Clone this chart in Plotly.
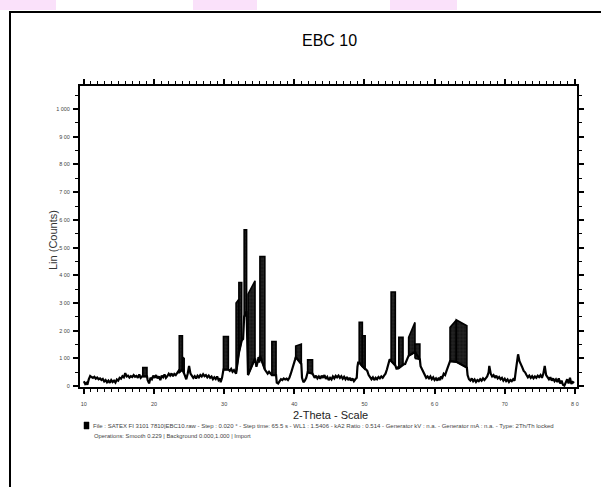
import plotly.graph_objects as go

# ---- data ----
profile_x = [10.0, 10.2, 10.4, 10.5, 10.7, 10.9, 11.1, 11.3, 11.5, 11.7, 11.9, 12.1, 12.3, 12.5, 12.7, 12.9,
             13.1, 13.3, 13.5, 13.7, 13.9, 14.1, 14.3, 14.5, 14.7, 14.9, 15.1, 15.3, 15.5, 15.7, 15.9, 16.1,
             16.3, 16.5, 16.7, 16.9, 17.1, 17.3, 17.5, 17.7, 17.9, 18.1, 18.3, 18.4, 19.0, 19.1, 19.3, 19.5,
             19.7, 19.9, 20.1, 20.3, 20.5, 20.7, 20.9, 21.1, 21.3, 21.5, 21.7, 21.9, 22.1, 22.3, 22.5, 22.7,
             22.9, 23.1, 23.3, 23.5, 23.6, 24.05, 24.3, 24.4, 24.6, 24.8, 25.0, 25.2, 25.4, 25.6, 25.8, 26.0,
             26.2, 26.4, 26.6, 26.8, 27.0, 27.2, 27.4, 27.6, 27.8, 28.0, 28.2, 28.4, 28.6, 28.8, 29.0, 29.2,
             29.4, 29.5, 29.7, 29.9, 30.6, 30.8, 31.0, 31.2, 31.4, 31.6, 31.7, 32.1, 32.5, 32.7, 32.85, 33.2,
             33.4, 34.4, 34.6, 34.8, 34.9, 35.0, 35.1, 35.8, 36.0, 36.2, 36.4, 36.6, 36.8, 37.4, 37.5, 37.7,
             37.9, 38.1, 38.3, 38.5, 38.7, 38.9, 39.1, 39.3, 39.5, 39.7, 39.9, 40.1, 40.2, 41.0, 41.1, 41.3,
             41.5, 41.7, 41.9, 42.6, 42.7, 42.9, 43.1, 43.3, 43.5, 43.7, 43.9, 44.1, 44.3, 44.5, 44.7, 44.9,
             45.1, 45.3, 45.5, 45.7, 45.9, 46.1, 46.3, 46.5, 46.7, 46.9, 47.1, 47.3, 47.5, 47.7, 47.9, 48.1,
             48.3, 48.5, 48.7, 48.9, 49.0, 49.1, 49.25, 49.7, 50.1, 50.2, 50.4, 50.6, 50.8, 51.0, 51.2, 51.4,
             51.6, 51.8, 52.0, 52.2, 52.4, 52.6, 52.8, 53.0, 53.2, 53.4, 53.6, 53.8, 54.4, 54.6, 54.8, 54.9,
             55.5, 55.6, 55.8, 56.0, 56.2, 56.3, 57.2, 57.9, 58.0, 58.2, 58.4, 58.6, 58.8, 59.0, 59.2, 59.4,
             59.6, 59.8, 60.0, 60.2, 60.4, 60.6, 60.8, 60.9, 61.1, 61.3, 61.5, 61.7, 61.9, 62.1, 62.2, 63.1,
             64.6, 64.7, 64.9, 65.1, 65.3, 65.5, 65.7, 65.9, 66.1, 66.3, 66.5, 66.7, 66.9, 67.1, 67.3, 67.5,
             67.7, 67.8, 68.0, 68.2, 68.4, 68.6, 68.8, 69.0, 69.2, 69.4, 69.6, 69.8, 70.0, 70.2, 70.4, 70.6,
             70.8, 71.0, 71.2, 71.4, 71.6, 71.8, 71.9, 72.1, 72.3, 72.5, 72.7, 72.9, 73.1, 73.3, 73.5, 73.7,
             73.9, 74.1, 74.3, 74.5, 74.7, 74.9, 75.1, 75.3, 75.5, 75.7, 75.9, 76.1, 76.3, 76.5, 76.7, 76.9,
             77.1, 77.3, 77.5, 77.7, 77.9, 78.1, 78.3, 78.5, 78.7, 78.9, 79.1, 79.3, 79.5, 79.7, 79.9]
profile_y = [18, 8, 12, 5, 25, 37, 33, 30, 34, 27, 31, 25, 28, 22, 26, 17,
             22, 14, 20, 12, 22, 15, 20, 13, 24, 20, 30, 27, 36, 32, 47, 35,
             38, 31, 36, 33, 40, 34, 37, 30, 42, 30, 35, 35, 35, 22, 10, 30,
             25, 38, 30, 40, 28, 35, 22, 38, 32, 42, 30, 36, 45, 38, 46, 36,
             44, 40, 48, 55, 50, 60, 45, 40, 25, 45, 73, 45, 38, 30, 36, 28,
             38, 32, 40, 35, 43, 36, 40, 32, 38, 30, 35, 25, 32, 26, 35, 22,
             28, 14, 30, 60, 60, 55, 62, 52, 58, 45, 45, 120, 165, 170, 250, 270,
             40, 100, 70, 90, 105, 85, 110, 60, 50, 45, 52, 44, 40, 40, 13, 10,
             20, 25, 22, 28, 24, 27, 22, 30, 45, 60, 73, 95, 105, 80, 30, 14,
             20, 30, 50, 45, 40, 30, 38, 28, 35, 27, 38, 30, 40, 26, 33, 22,
             30, 24, 35, 28, 37, 32, 38, 30, 36, 27, 34, 25, 33, 22, 30, 20,
             28, 18, 25, 30, 70, 85, 85, 70, 61, 61, 55, 40, 30, 25, 32, 22,
             30, 25, 33, 28, 35, 30, 38, 45, 60, 80, 97, 91, 75, 61, 70, 65,
             79, 79, 80, 95, 110, 110, 123, 97, 72, 60, 50, 40, 30, 35, 28, 35,
             25, 32, 22, 28, 20, 30, 22, 35, 30, 45, 40, 55, 70, 90, 90, 88,
             67, 40, 25, 20, 28, 18, 24, 15, 22, 18, 25, 20, 28, 22, 30, 35,
             50, 73, 45, 35, 40, 30, 38, 28, 33, 25, 30, 20, 27, 18, 24, 15,
             22, 18, 25, 20, 60, 95, 115, 90, 75, 68, 55, 50, 40, 32, 38, 30,
             36, 28, 35, 30, 38, 33, 40, 30, 45, 73, 40, 30, 25, 32, 20, 28,
             18, 25, 15, 28, 10, 20, 5, 2, 15, 25, 10, 30, 8, 15, 12]

# dense unresolved peak blocks (start/end angle, top and bottom counts at each edge)
band_x0 = [18.4, 23.6, 24.05, 29.9, 31.7, 32.1, 32.85, 33.4, 35.1, 36.8, 40.2, 41.9, 49.25, 49.7, 53.8, 54.9, 56.3, 57.2, 62.2, 63.1]
band_x1 = [19.0, 24.05, 24.3, 30.6, 32.1, 32.5, 33.2, 34.4, 35.8, 37.4, 41.0, 42.6, 49.7, 50.1, 54.4, 55.5, 57.2, 57.9, 63.1, 64.6]
band_top0 = [67, 182, 105, 179, 300, 374, 564, 332, 468, 161, 145, 95, 230, 182, 340, 176, 176, 152, 212, 239]
band_top1 = [67, 182, 100, 179, 314, 374, 564, 380, 468, 161, 152, 95, 230, 182, 340, 176, 230, 152, 239, 218]
band_bot0 = [35, 50, 60, 60, 45, 120, 250, 40, 110, 40, 105, 50, 85, 70, 91, 65, 110, 100, 90, 88]
band_bot1 = [35, 60, 45, 60, 120, 165, 270, 100, 60, 40, 80, 45, 70, 61, 75, 79, 123, 97, 88, 67]

y_tickvals = [0, 100, 200, 300, 400, 500, 600, 700, 800, 900, 1000]
y_ticktext = ["0", "1 00", "2 00", "3 00", "4 00", "5 00", "6 00", "7 00", "8 00", "9 00", "1 000"]
x_tickvals = [10, 20, 30, 40, 50, 60, 70, 80]
x_ticktext = ["10", "20", "30", "40", "50", "6 0", "70", "8 0"]

title_text = "EBC 10"
y_title = "Lin (Counts)"
x_title = "2-Theta - Scale"
foot1 = ("File : SATEX FI 3101 7810|EBC10.raw - Step : 0.020 \u00b0 - Step time: 65.5 s - WL1 : 1.5406 - "
         "kA2 Ratio : 0.514 - Generator kV : n.a. - Generator mA : n.a. - Type: 2Th/Th locked")
foot2 = "Operations: Smooth 0.229 | Background 0.000,1.000 | Import"

FONT = "Liberation Sans, Arial, sans-serif"

fig = go.Figure()

for i in range(len(band_x0)):
    fig.add_trace(go.Scatter(
        x=[band_x0[i], band_x1[i], band_x1[i], band_x0[i], band_x0[i]],
        y=[band_bot0[i], band_bot1[i], band_top1[i], band_top0[i], band_bot0[i]],
        mode="lines", fill="toself",
        fillcolor="#1a1a1a",
        fillpattern=dict(shape="+", bgcolor="#161616", fgcolor="#8c8c8c", size=3.5, solidity=0.12),
        line=dict(color="black", width=1.6),
        hoverinfo="skip", showlegend=False))

fig.add_trace(go.Scatter(x=profile_x, y=profile_y, mode="lines",
                         line=dict(color="black", width=2.2), showlegend=False))

axis_common = dict(showline=True, linecolor="black", linewidth=2, mirror="ticks",
                   showgrid=False, zeroline=False, ticks="outside", tickcolor="black",
                   tickfont=dict(family=FONT, size=5.5, color="#444"))

fig.update_xaxes(range=[9.45, 80.3], tickvals=x_tickvals, ticktext=x_ticktext,
                 ticklen=5, tickwidth=1.5, ticklabelstandoff=5,
                 minor=dict(dtick=1, tick0=10, ticklen=3, tickwidth=1.2, tickcolor="black", ticks="outside"),
                 **axis_common)
fig.update_yaxes(range=[-3, 1083], tickvals=y_tickvals, ticktext=y_ticktext,
                 ticklen=5, tickwidth=1.5, ticklabelstandoff=2,
                 minor=dict(dtick=50, tick0=0, ticklen=3, tickwidth=1.2, tickcolor="black", ticks="outside"),
                 **axis_common)

# paper-coordinate helpers: plot area is 80..577 px wide, 86..387 px tall
def px(xp):
    return (xp - 80) / 497.0

def py(yp):
    return (387 - yp) / 301.0

annots = [
    dict(text=title_text, x=px(329), y=py(40), font=dict(family=FONT, size=16, color="black")),
    dict(text=y_title, x=px(53), y=py(240), textangle=-90, font=dict(family=FONT, size=11, color="#333")),
    dict(text=x_title, x=px(330), y=py(415), font=dict(family=FONT, size=11, color="#222")),
    dict(text=foot1, x=px(91), y=py(426), xanchor="left", font=dict(family=FONT, size=6, color="#444")),
    dict(text=foot2, x=px(92), y=py(436), xanchor="left", font=dict(family=FONT, size=5.8, color="#444")),
]
for a in annots:
    a.update(xref="paper", yref="paper", showarrow=False)
    a.setdefault("xanchor", "center")
    a.setdefault("yanchor", "middle")
fig.update_layout(annotations=annots)

shapes = [
    # outer frame
    dict(type="rect", xref="paper", yref="paper", x0=px(10), x1=px(640), y0=py(520), y1=py(12),
         line=dict(color="black", width=2), fillcolor="rgba(0,0,0,0)"),
    # small black legend square
    dict(type="rect", xref="paper", yref="paper", x0=px(84), x1=px(89), y0=py(429), y1=py(422),
         line=dict(color="black", width=0.5), fillcolor="black"),
    # faint pink watermark fragments along the top edge
    dict(type="rect", xref="paper", yref="paper", x0=px(0), x1=px(56), y0=py(10), y1=py(0),
         line=dict(width=0), fillcolor="rgba(240,170,240,0.35)"),
    dict(type="rect", xref="paper", yref="paper", x0=px(193), x1=px(257), y0=py(10), y1=py(0),
         line=dict(width=0), fillcolor="rgba(240,170,240,0.35)"),
    dict(type="rect", xref="paper", yref="paper", x0=px(390), x1=px(457), y0=py(10), y1=py(0),
         line=dict(width=0), fillcolor="rgba(240,170,240,0.35)"),
]
fig.update_layout(shapes=shapes)

fig.update_layout(width=601, height=487, margin=dict(l=80, r=24, t=86, b=100),
                  paper_bgcolor="white", plot_bgcolor="white", showlegend=False)

fig.write_html("out.html")
